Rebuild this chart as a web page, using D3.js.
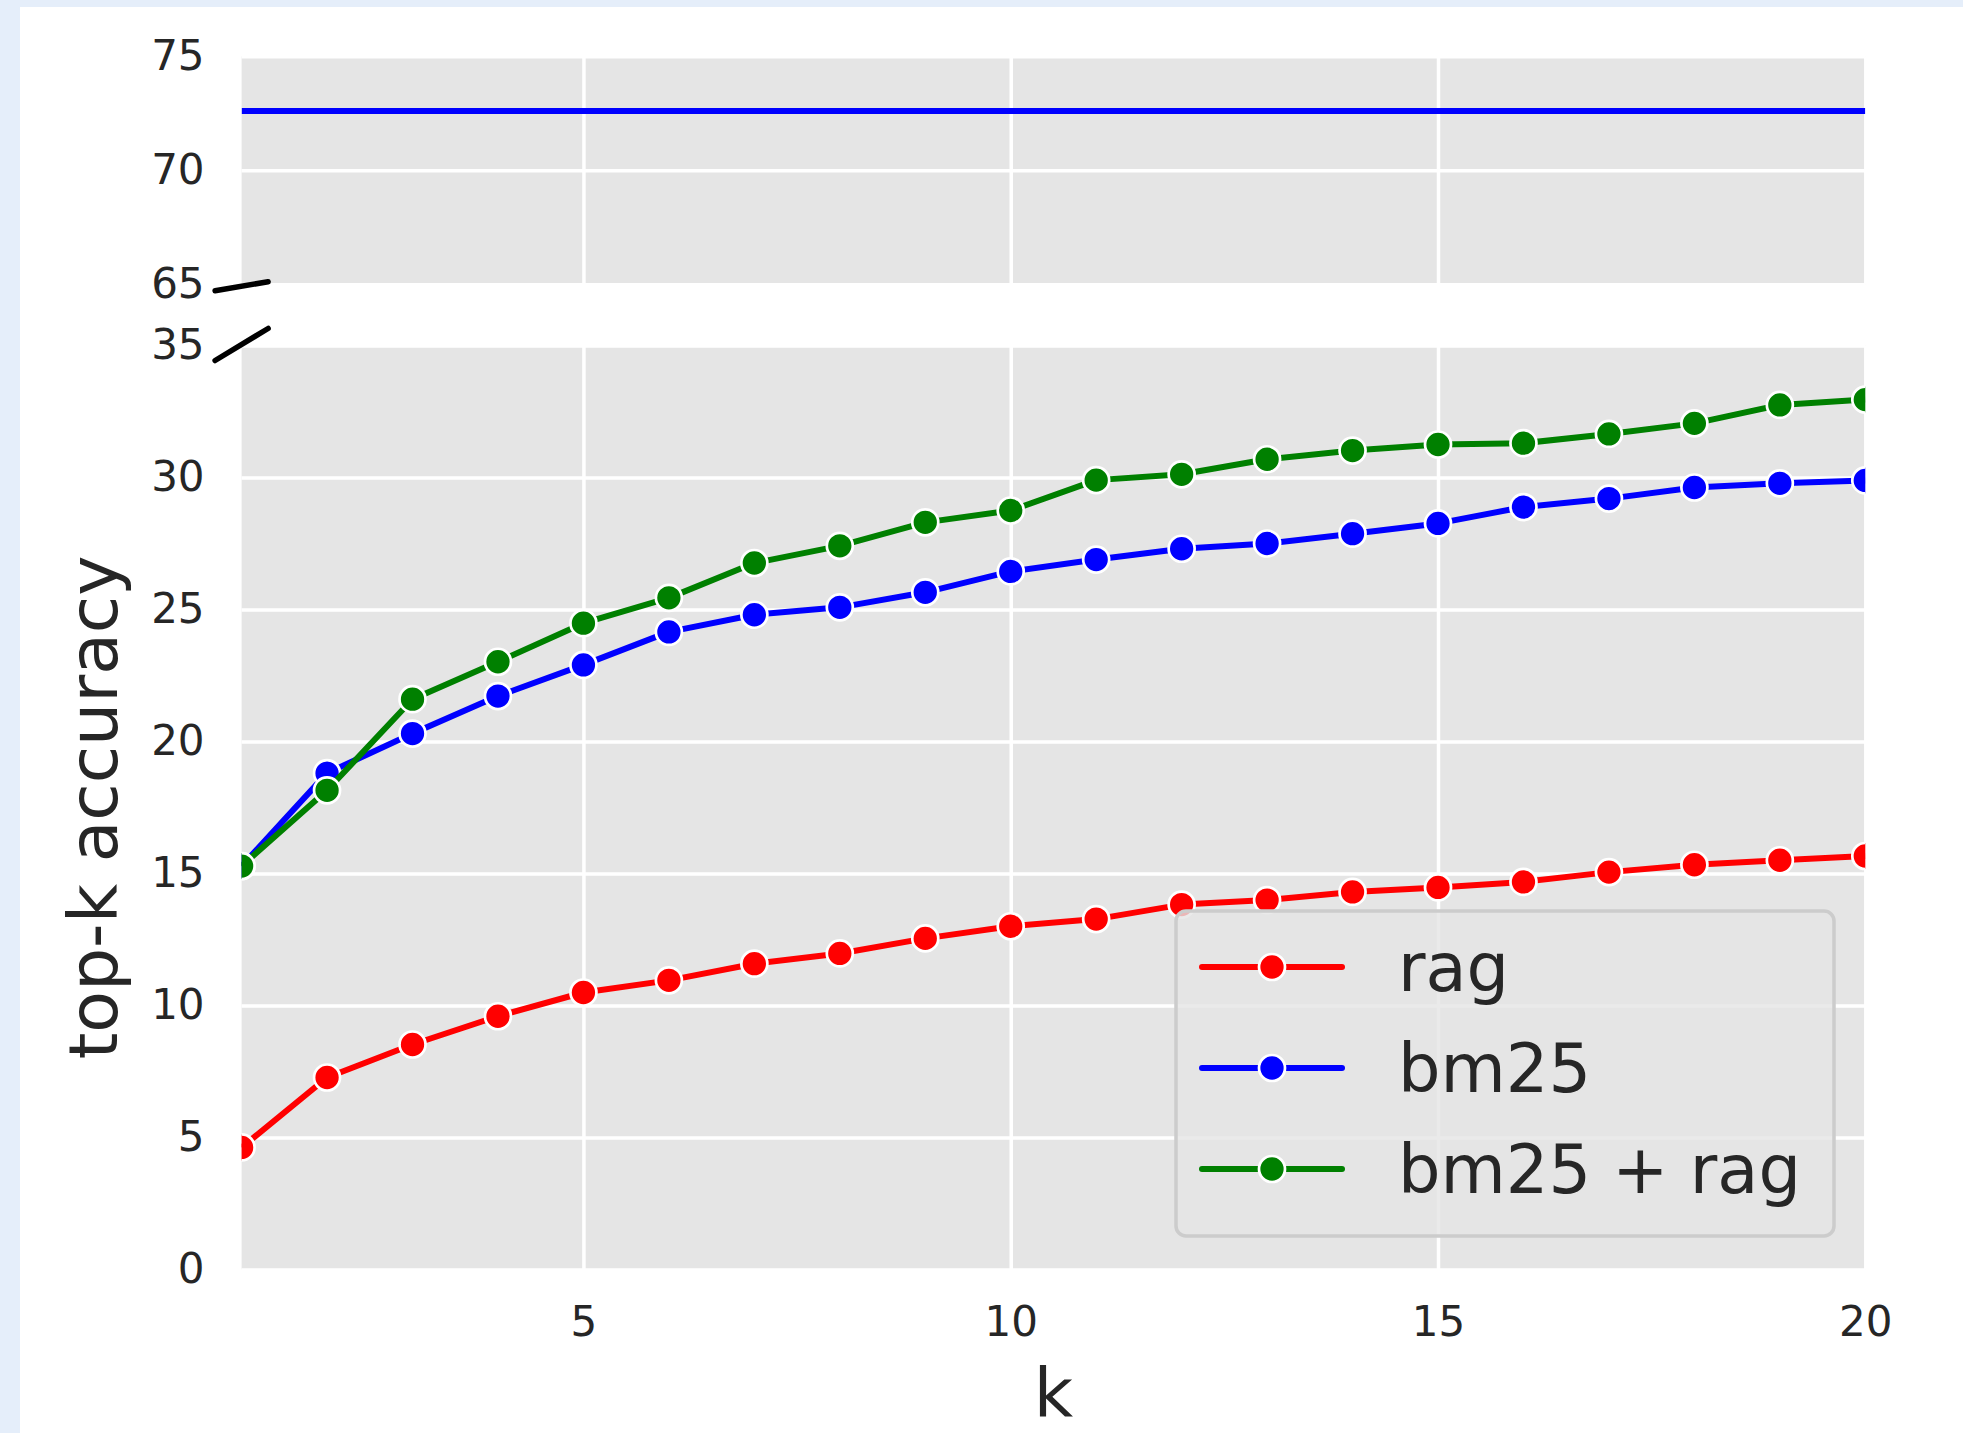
<!DOCTYPE html>
<html>
<head>
<meta charset="utf-8">
<script src="https://d3js.org/d3.v7.min.js"></script>
<style>
  html, body { margin: 0; padding: 0; background: #e5eefa; }
  svg { display: block; }
  text { font-family: "DejaVu Sans", sans-serif; }
</style>
</head>
<body>
<svg id="chart" width="1963" height="1433"></svg>
<script>
"use strict";

// data
var kValues = [1, 2, 3, 4, 5, 6, 7, 8, 9, 10, 11, 12, 13, 14, 15, 16, 17, 18, 19, 20];
var ragValues = [4.62, 7.27, 8.52, 9.59, 10.49, 10.95, 11.58, 11.97, 12.54, 13.0,
                 13.27, 13.82, 13.99, 14.3, 14.47, 14.68, 15.05, 15.33, 15.5, 15.66];
var bm25Values = [15.28, 18.8, 20.3, 21.72, 22.9, 24.15, 24.8, 25.08, 25.65, 26.44,
                  26.89, 27.3, 27.5, 27.87, 28.26, 28.88, 29.2, 29.62, 29.78, 29.89];
var bothValues = [15.28, 18.15, 21.6, 23.02, 24.48, 25.44, 26.76, 27.41, 28.3, 28.75,
                  29.9, 30.12, 30.69, 31.02, 31.25, 31.3, 31.65, 32.05, 32.75, 32.95];
var upperLineValue = 72.6;

var seriesNames = ["rag", "bm25", "bm25 + rag"];
var seriesColors = ["#ff0000", "#0000ff", "#008000"];

var xTicks = [5, 10, 15, 20];
var upperTicks = [65, 70, 75];
var lowerTicks = [0, 5, 10, 15, 20, 25, 30, 35];

var svg = d3.select("#chart");

// white card on the light blue page
svg.append("rect")
  .attr("x", 20).attr("y", 7)
  .attr("width", 1963).attr("height", 1433)
  .attr("fill", "#ffffff");

var x = d3.scaleLinear().domain([1, 20]).range([241.6, 1865.3]);
var yUpper = d3.scaleLinear().domain([65, 75]).range([284.2, 56.3]);
var yLower = d3.scaleLinear().domain([0, 35]).range([1269.4, 345.5]);

var plotWidth = x.range()[1] - x.range()[0];
var lineWidth = 6,
    markerR = 13,
    markerEdge = 2.7;

function drawPanel(y, ticks, id) {
  var top = y.range()[1],
      bottom = y.range()[0],
      h = bottom - top;

  var g = svg.append("g");

  g.append("rect")
    .attr("x", x.range()[0]).attr("y", top)
    .attr("width", plotWidth).attr("height", h)
    .attr("fill", "#e5e5e5");

  // grid
  var gx = g.append("g")
    .attr("transform", "translate(0," + bottom + ")")
    .call(d3.axisBottom(x).tickValues(xTicks).tickSize(-h).tickFormat(""));
  var gy = g.append("g")
    .attr("transform", "translate(" + x.range()[0] + ",0)")
    .call(d3.axisLeft(y).tickValues(ticks).tickSize(-plotWidth).tickFormat(""));
  [gx, gy].forEach(function(a) {
    a.select(".domain").remove();
    a.selectAll("line").attr("stroke", "#ffffff").attr("stroke-width", 3.5);
  });

  // tick labels
  var labels = g.append("g")
    .attr("transform", "translate(" + x.range()[0] + ",0)")
    .call(d3.axisLeft(y).tickValues(ticks).tickSize(0).tickPadding(37));
  labels.select(".domain").remove();
  labels.selectAll("text")
    .attr("font-size", 42).attr("font-family", "DejaVu Sans")
    .attr("fill", "#262626");

  svg.append("clipPath").attr("id", id)
    .append("rect")
    .attr("x", x.range()[0]).attr("y", top)
    .attr("width", plotWidth).attr("height", h);

  return g;
}

var upperPanel = drawPanel(yUpper, upperTicks, "clip-upper");
var lowerPanel = drawPanel(yLower, lowerTicks, "clip-lower");

// x tick labels under the lower panel
var xLabels = svg.append("g")
  .attr("transform", "translate(0," + yLower.range()[0] + ")")
  .call(d3.axisBottom(x).tickValues(xTicks).tickSize(0).tickPadding(37));
xLabels.select(".domain").remove();
xLabels.selectAll("text")
  .attr("font-size", 42).attr("font-family", "DejaVu Sans")
  .attr("fill", "#262626");

// upper reference line
svg.append("g").attr("clip-path", "url(#clip-upper)")
  .append("line")
  .attr("x1", x(1)).attr("x2", x(20))
  .attr("y1", yUpper(upperLineValue)).attr("y2", yUpper(upperLineValue))
  .attr("stroke", seriesColors[1]).attr("stroke-width", lineWidth);

// series in the lower panel
var seriesData = [ragValues, bm25Values, bothValues].map(function(vals, i) {
  return {
    name: seriesNames[i],
    color: seriesColors[i],
    points: vals.map(function(v, j) { return { k: kValues[j], v: v }; })
  };
});

var line = d3.line()
  .x(function(d) { return x(d.k); })
  .y(function(d) { return yLower(d.v); });

var plotG = svg.append("g").attr("clip-path", "url(#clip-lower)");

seriesData.forEach(function(s) {
  var sg = plotG.append("g");
  sg.append("path")
    .attr("d", line(s.points))
    .attr("fill", "none")
    .attr("stroke", s.color)
    .attr("stroke-width", lineWidth)
    .attr("stroke-linejoin", "round");
  sg.selectAll("circle")
    .data(s.points)
  .enter().append("circle")
    .attr("cx", function(d) { return x(d.k); })
    .attr("cy", function(d) { return yLower(d.v); })
    .attr("r", markerR)
    .attr("fill", s.color)
    .attr("stroke", "#ffffff")
    .attr("stroke-width", markerEdge);
});

// break marks on the left edge
function breakMark(cy, dy) {
  var cx = x.range()[0], dx = 26.5;
  svg.append("line")
    .attr("x1", cx - dx).attr("y1", cy + dy)
    .attr("x2", cx + dx).attr("y2", cy - dy)
    .attr("stroke", "#000000").attr("stroke-width", 5.5)
    .attr("stroke-linecap", "round");
}
breakMark(yUpper.range()[0] + 2, 4.5);
breakMark(yLower.range()[1] - 1, 16);

// axis titles
svg.append("text")
  .attr("transform", "translate(117," + (yLower.range()[0] + yLower.range()[1]) / 2 + ") rotate(-90)")
  .attr("text-anchor", "middle")
  .attr("font-size", 68)
  .attr("fill", "#262626")
  .text("top-k accuracy");

svg.append("text")
  .attr("x", (x.range()[0] + x.range()[1]) / 2)
  .attr("y", 1417)
  .attr("text-anchor", "middle")
  .attr("font-size", 68)
  .attr("fill", "#262626")
  .text("k");

// legend
var legend = svg.append("g").attr("transform", "translate(1176,911)");
legend.append("rect")
  .attr("width", 658).attr("height", 325)
  .attr("rx", 10).attr("ry", 10)
  .attr("fill", "rgba(229,229,229,0.8)")
  .attr("stroke", "#cccccc")
  .attr("stroke-width", 3.5);

var rowY = [56, 157, 258];
seriesData.forEach(function(s, i) {
  var row = legend.append("g").attr("transform", "translate(0," + rowY[i] + ")");
  row.append("line")
    .attr("x1", 26).attr("x2", 166)
    .attr("stroke", s.color).attr("stroke-width", lineWidth)
    .attr("stroke-linecap", "round");
  row.append("circle")
    .attr("cx", 96).attr("cy", 0).attr("r", markerR)
    .attr("fill", s.color)
    .attr("stroke", "#ffffff").attr("stroke-width", markerEdge);
  row.append("text")
    .attr("x", 222).attr("y", 24)
    .attr("font-size", 67)
    .attr("fill", "#262626")
    .text(s.name);
});
</script>
</body>
</html>
